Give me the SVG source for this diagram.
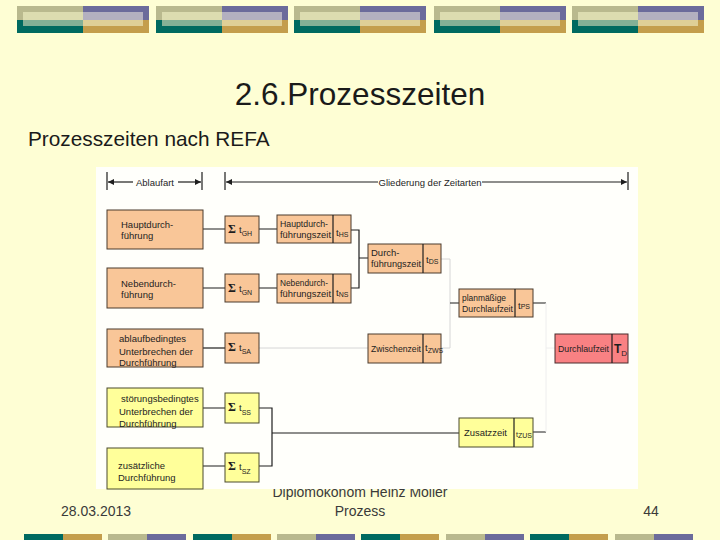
<svg xmlns="http://www.w3.org/2000/svg" width="720" height="540" viewBox="0 0 720 540">
<defs>
<style>
.sans{font-family:"Liberation Sans",Arial,sans-serif}
.t{font-family:"Liberation Sans",Arial,sans-serif;font-size:9.5px;fill:#1e1e1e}
.ts{font-family:"Liberation Sans",Arial,sans-serif;font-size:7px;fill:#1e1e1e}
.sig{font-family:"Liberation Serif","Times New Roman",serif;font-size:12px;font-weight:bold;fill:#1e1e1e}
.peach{fill:#f9c698;stroke:#4a3b2c;stroke-width:1}
.yel{fill:#ffff9a;stroke:#4a4a2c;stroke-width:1}
.red{fill:#f98183;stroke:#4a2c2c;stroke-width:1}
.ln{stroke:#1e1e1e;stroke-width:1.2;fill:none}
.lg{stroke:#d6d6d6;stroke-width:1;fill:none}
.lf{stroke:#eeeeee;stroke-width:1;fill:none}
.foot{font-family:"Liberation Sans",Arial,sans-serif;font-size:14px;fill:#3a3a3a}
</style>
<marker id="ah" viewBox="0 0 6 6" refX="6" refY="3" markerWidth="6" markerHeight="6" orient="auto-start-reverse" markerUnits="userSpaceOnUse">
<path d="M0,0 L6,3 L0,6 z" fill="#1e1e1e"/>
</marker>
<g id="deco">
<rect x="0" y="0" width="66" height="14" fill="#b9b98e"/>
<rect x="6" y="6" width="60" height="8" fill="#dcdcb0"/>
<rect x="66" y="0" width="66" height="14" fill="#6b6b9b"/>
<rect x="66" y="6" width="60" height="8" fill="#b3b0c0"/>
<rect x="0" y="14" width="66" height="13" fill="#006a60"/>
<rect x="6" y="14" width="60" height="6" fill="#84b096"/>
<rect x="66" y="14" width="66" height="13" fill="#c49e4c"/>
<rect x="66" y="14" width="60" height="6" fill="#dfcf96"/>
</g>
<g id="barA"><rect x="0" y="0" width="39" height="6" fill="#006a60"/><rect x="39" y="0" width="39" height="6" fill="#c49e4c"/></g>
<g id="barB"><rect x="0" y="0" width="39" height="6" fill="#b9b98e"/><rect x="39" y="0" width="39" height="6" fill="#6b6b9b"/></g>
</defs>

<rect x="0" y="0" width="720" height="540" fill="#fefed4"/>

<g id="top-decoration">
<use href="#deco" x="17" y="6"/>
<use href="#deco" x="156" y="6"/>
<use href="#deco" x="294" y="6"/>
<use href="#deco" x="434" y="6"/>
<use href="#deco" x="572" y="6"/>
</g>
<g id="bottom-decoration">
<use href="#barA" x="24" y="534"/>
<use href="#barB" x="108" y="534"/>
<use href="#barA" x="193" y="534"/>
<use href="#barB" x="277" y="534"/>
<use href="#barA" x="361" y="534"/>
<use href="#barB" x="446" y="534"/>
<use href="#barA" x="530" y="534"/>
<use href="#barB" x="615" y="534"/>
</g>

<text class="sans" x="360" y="105" font-size="31.5" text-anchor="middle" fill="#1a1a1a">2.6.Prozesszeiten</text>
<text class="sans" x="28" y="146" font-size="20.8" fill="#1a1a1a">Prozesszeiten nach REFA</text>

<text class="foot" x="96" y="516" text-anchor="middle">28.03.2013</text>
<text class="foot" x="360" y="497" text-anchor="middle" font-size="15.5">Diplomökonom Heinz Möller</text>
<text class="foot" x="360" y="516" text-anchor="middle">Prozess</text>
<text class="foot" x="651" y="516" text-anchor="middle">44</text>

<rect x="96" y="167" width="542" height="322" fill="#fffffb"/>

<g id="header">
<line x1="107" y1="172" x2="107" y2="190" class="ln"/>
<line x1="202" y1="172" x2="202" y2="190" class="ln"/>
<line x1="108" y1="182" x2="133" y2="182" class="ln" marker-start="url(#ah)"/>
<line x1="178" y1="182" x2="201" y2="182" class="ln" marker-end="url(#ah)"/>
<text class="t" x="155" y="185.5" text-anchor="middle">Ablaufart</text>
<line x1="225" y1="172" x2="225" y2="190" class="ln"/>
<line x1="628" y1="172" x2="628" y2="190" class="ln"/>
<line x1="226" y1="182" x2="378" y2="182" class="ln" marker-start="url(#ah)"/>
<line x1="482" y1="182" x2="627" y2="182" class="ln" marker-end="url(#ah)"/>
<text class="t" x="430" y="185.5" text-anchor="middle">Gliederung der Zeitarten</text>
</g>

<g id="connectors">
<path class="ln" d="M203,229 H225 M259,229 H277 M203,288 H225 M259,288 H277"/>
<path class="ln" d="M351,230 H359 V288 H351 M359,258 H368"/>
<path class="lg" d="M441,259 H450 V348 H441"/>
<path class="ln" d="M450,303 H459 M533,303 H546"/>
<path class="ln" d="M203,348 H225"/>
<path class="lg" d="M259,348 H368"/>
<path class="ln" d="M203,408 H225 M203,466 H225 M259,408 H272 V466 H259 M272,433 H459 M533,432 H546"/>
<path class="lf" d="M546,303 V432 M546,348 H555"/>
</g>

<g id="n-haupt"><rect class="peach" x="107" y="210" width="96" height="39"/>
<text class="t" x="121" y="228">Hauptdurch-</text><text class="t" x="121" y="239">führung</text></g>
<g id="n-neben"><rect class="peach" x="107" y="268" width="96" height="40"/>
<text class="t" x="121" y="287">Nebendurch-</text><text class="t" x="121" y="298">führung</text></g>
<g id="n-ablauf"><rect class="peach" x="107" y="329" width="96" height="38"/>
<text class="t" x="119" y="342">ablaufbedingtes</text><text class="t" x="119" y="355">Unterbrechen der</text><text class="t" x="119" y="366">Durchführung</text></g>
<g id="n-stoer"><rect class="yel" x="107" y="388" width="96" height="39"/>
<text class="t" x="121" y="402">störungsbedingtes</text><text class="t" x="119" y="415">Unterbrechen der</text><text class="t" x="119" y="427">Durchführung</text></g>
<g id="n-zus"><rect class="yel" x="107" y="448" width="96" height="41"/>
<text class="t" x="118" y="469">zusätzliche</text><text class="t" x="118" y="481">Durchführung</text></g>

<g id="s-gh"><rect class="peach" x="225" y="216" width="34" height="27"/>
<text class="sig" x="228" y="233">Σ</text><text class="t" x="239" y="233">t<tspan class="ts" dy="3">GH</tspan></text></g>
<g id="s-gn"><rect class="peach" x="225" y="274" width="34" height="28"/>
<text class="sig" x="228" y="292">Σ</text><text class="t" x="239" y="292">t<tspan class="ts" dy="3">GN</tspan></text></g>
<g id="s-sa"><rect class="peach" x="225" y="333" width="34" height="30"/>
<text class="sig" x="228" y="351">Σ</text><text class="t" x="239" y="351">t<tspan class="ts" font-size="9" dy="3">SA</tspan></text></g>
<g id="s-ss"><rect class="yel" x="225" y="393" width="34" height="30"/>
<text class="sig" x="228" y="411">Σ</text><text class="t" x="239" y="411">t<tspan class="ts" font-size="9" dy="4">SS</tspan></text></g>
<g id="s-sz"><rect class="yel" x="225" y="453" width="34" height="29"/>
<text class="sig" x="228" y="470">Σ</text><text class="t" x="239" y="470">t<tspan class="ts" font-size="9" dy="4">SZ</tspan></text></g>

<g id="n-hs"><rect class="peach" x="277" y="215" width="74" height="28"/><line x1="333" y1="215" x2="333" y2="243" class="ln"/>
<text class="t" x="280" y="227" textLength="48" lengthAdjust="spacingAndGlyphs">Hauptdurch-</text><text class="t" x="280" y="238" textLength="51" lengthAdjust="spacingAndGlyphs">führungszeit</text>
<text class="t" x="336" y="236">t<tspan class="ts" dy="1">HS</tspan></text></g>
<g id="n-ns"><rect class="peach" x="277" y="274" width="74" height="29"/><line x1="333" y1="274" x2="333" y2="303" class="ln"/>
<text class="t" x="280" y="286" textLength="48" lengthAdjust="spacingAndGlyphs">Nebendurch-</text><text class="t" x="280" y="297" textLength="51" lengthAdjust="spacingAndGlyphs">führungszeit</text>
<text class="t" x="336" y="296">t<tspan class="ts" dy="1">NS</tspan></text></g>
<g id="n-ds"><rect class="peach" x="368" y="244" width="73" height="29"/><line x1="423" y1="244" x2="423" y2="273" class="ln"/>
<text class="t" x="371" y="256">Durch-</text><text class="t" x="371" y="267" textLength="50" lengthAdjust="spacingAndGlyphs">führungszeit</text>
<text class="t" x="426" y="263">t<tspan class="ts" dy="1">DS</tspan></text></g>
<g id="n-zws"><rect class="peach" x="368" y="334" width="73" height="29"/><line x1="423" y1="334" x2="423" y2="363" class="ln"/>
<text class="t" x="371" y="352" textLength="50" lengthAdjust="spacingAndGlyphs">Zwischenzeit</text>
<text class="t" x="425" y="351">t<tspan class="ts" font-size="6" dy="2">ZWS</tspan></text></g>
<g id="n-ps"><rect class="peach" x="459" y="289" width="74" height="28"/><line x1="515" y1="289" x2="515" y2="317" class="ln"/>
<text class="t" x="462" y="301" textLength="44" lengthAdjust="spacingAndGlyphs">planmäßige</text><text class="t" x="462" y="312" textLength="51" lengthAdjust="spacingAndGlyphs">Durchlaufzeit</text>
<text class="t" x="518" y="309">t<tspan class="ts" dy="0">PS</tspan></text></g>
<g id="n-zu"><rect class="yel" x="459" y="418" width="74" height="29"/><line x1="514" y1="418" x2="514" y2="447" class="ln"/>
<text class="t" x="464" y="436" textLength="43" lengthAdjust="spacingAndGlyphs">Zusatzzeit</text>
<text class="ts" x="516" y="437" font-size="6">t<tspan dy="1">ZUS</tspan></text></g>
<g id="n-td"><rect class="red" x="555" y="334" width="73" height="29"/><line x1="612" y1="334" x2="612" y2="363" class="ln"/>
<text class="t" x="558" y="352" textLength="51" lengthAdjust="spacingAndGlyphs">Durchlaufzeit</text>
<text class="sans" x="614" y="353" font-size="12" font-weight="bold" fill="#1e1e1e">T<tspan font-size="8" font-weight="normal" dy="3">D</tspan></text></g>
</svg>
